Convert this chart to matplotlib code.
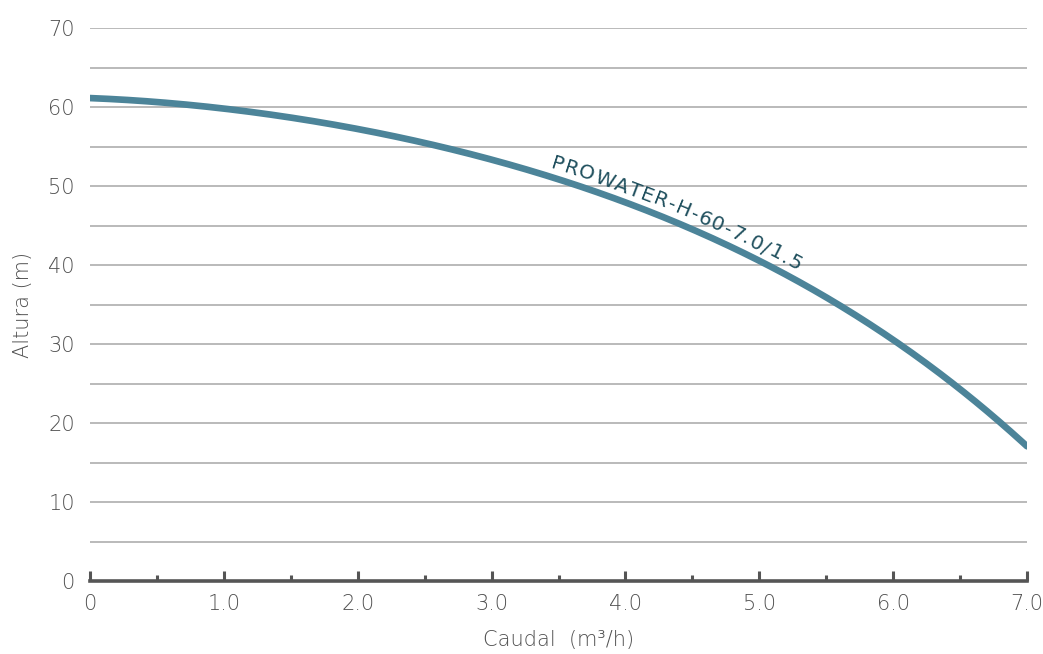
import matplotlib
matplotlib.use("Agg")
import matplotlib.pyplot as plt
import numpy as np
from matplotlib.ticker import MultipleLocator

flow = [0.0, 0.5, 1.0, 1.5, 2.0, 2.5, 3.0, 3.5, 4.0, 4.5, 5.0, 5.5, 6.0, 6.5, 7.0]
head = [61.1, 60.6, 59.9, 58.7, 57.2, 55.4, 53.3, 50.8, 47.8, 44.6, 40.6, 36.2, 30.5, 23.8, 17.3]
xticks = [0, 1, 2, 3, 4, 5, 6, 7]
xticklabels = ["0", "1.0", "2.0", "3.0", "4.0", "5.0", "6.0", "7.0"]
yticks = [0, 10, 20, 30, 40, 50, 60, 70]
curve_label = "PROWATER-H-60-7.0/1.5"

plt.rcParams['font.family'] = ['DejaVu Sans']
TXT = "#505050"

fig = plt.figure(figsize=(10.43, 6.54), dpi=100)
ax = fig.add_axes([90/1043, (654-581)/654, (1027-90)/1043, (581-28)/654])

coef = np.polyfit(flow, head, 4)
xs = np.linspace(0, 7, 400)
ys = np.polyval(coef, xs)
ax.plot(xs, ys, color="#4c8499", lw=4.8, solid_capstyle="round", zorder=3)

ax.set_xlim(0, 7)
ax.set_ylim(0, 70)
ax.set_xticks(xticks)
ax.set_xticklabels(xticklabels)
ax.xaxis.set_minor_locator(MultipleLocator(0.5))
ax.set_yticks(yticks)
ax.yaxis.set_minor_locator(MultipleLocator(5))
ax.grid(axis="y", which="both", color="#b4b4b4", lw=1.3)
ax.set_axisbelow(True)

for s in ["top", "right", "left"]:
    ax.spines[s].set_visible(False)
ax.spines["bottom"].set_color("#555555")
ax.spines["bottom"].set_linewidth(2.6)
ax.spines["bottom"].set_zorder(4)

ax.tick_params(axis="x", which="major", direction="in", length=7, width=2.2, color="#555555",
               labelsize=15, labelcolor=TXT, pad=9)
ax.tick_params(axis="x", which="minor", direction="in", length=4, width=2.2, color="#555555")
ax.tick_params(axis="y", which="both", length=0, labelsize=15, labelcolor=TXT, pad=11)
for lab in ax.get_xticklabels() + ax.get_yticklabels():
    lab.set_fontweight("light")

ax.set_xlabel("Caudal  (m³/h)", fontsize=15, color=TXT, labelpad=12, fontweight="light")
ax.set_ylabel("Altura (m)", fontsize=15, color=TXT, labelpad=11, fontweight="light")

# curve label laid out character by character along the curve
fig.canvas.draw()
renderer = fig.canvas.get_renderer()
disp = ax.transData.transform(np.column_stack([xs, ys]))
d = np.gradient(disp, axis=0)
d /= np.linalg.norm(d, axis=1)[:, None]
normal = np.column_stack([-d[:, 1], d[:, 0]])
off = disp + normal * 8.5
seg = np.linalg.norm(np.diff(off, axis=0), axis=1)
arc = np.concatenate([[0], np.cumsum(seg)])
ang = np.degrees(np.arctan2(d[:, 1], d[:, 0]))
s = np.interp(3.42, xs, arc)
spacing = 1.0
fs = 14.5
inv = ax.transData.inverted()
for ch in curve_label:
    t = ax.text(0, 0, ch, fontsize=fs, color="#1f4f5d")
    w = t.get_window_extent(renderer).width
    t.remove()
    sc = s + w / 2
    px = np.interp(sc, arc, off[:, 0])
    py = np.interp(sc, arc, off[:, 1])
    a = np.interp(sc, arc, ang)
    dx, dy = inv.transform((px, py))
    ax.text(dx, dy, ch, fontsize=fs, color="#1f4f5d", rotation=a,
            rotation_mode="anchor", ha="center", va="baseline", zorder=5)
    s += w + spacing

fig.savefig("out.png", dpi=100)
